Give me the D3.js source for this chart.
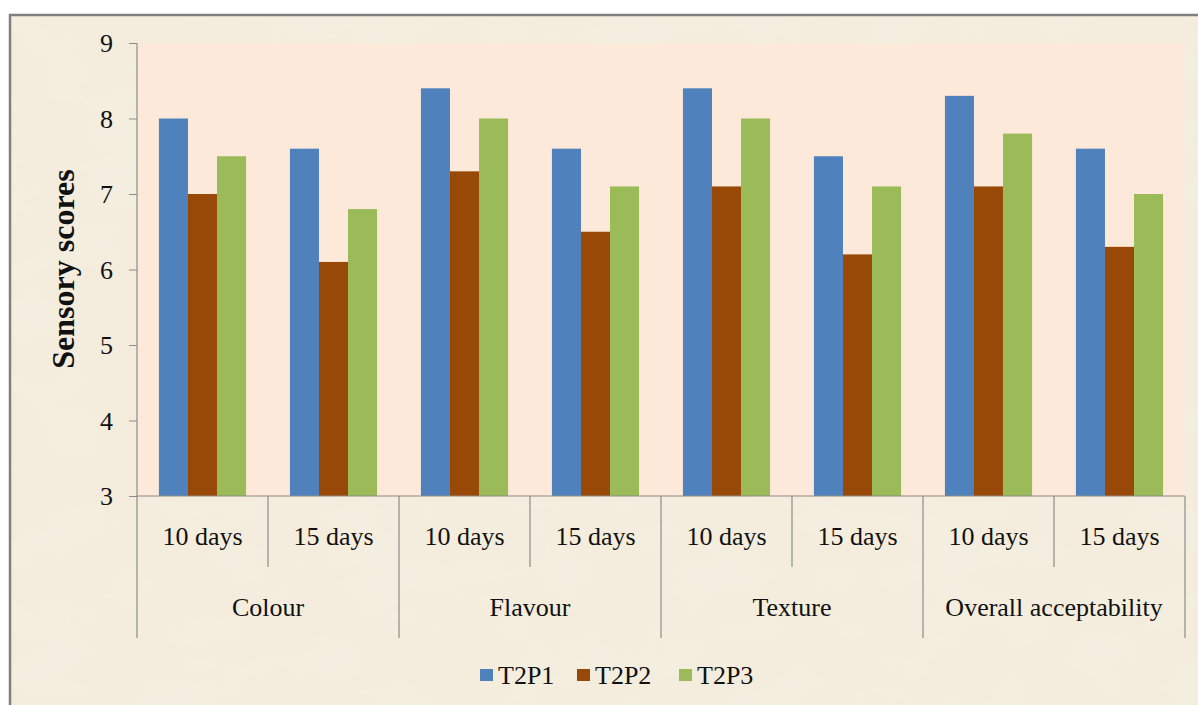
<!DOCTYPE html>
<html>
<head>
<meta charset="utf-8">
<script src="https://cdn.jsdelivr.net/npm/d3@7"></script>
<style>
  html, body { margin: 0; padding: 0; background: #ffffff; }
  svg { display: block; }
  text { font-family: "Liberation Serif", "Times New Roman", serif; fill: #111; }
</style>
</head>
<body>
<svg id="chart" width="1198" height="705"></svg>
<script>
// Sensory evaluation scores by attribute and storage period
const categories = ["Colour", "Flavour", "Texture", "Overall acceptability"];
const periods = ["10 days", "15 days"];
const seriesNames = ["T2P1", "T2P2", "T2P3"];
const seriesColors = ["#4f81bd", "#984807", "#9bbb59"];

// values per series, ordered category by category, 10 days then 15 days
const T2P1 = [8.0, 7.6, 8.4, 7.6, 8.4, 7.5, 8.3, 7.6];
const T2P2 = [7.0, 6.1, 7.3, 6.5, 7.1, 6.2, 7.1, 6.3];
const T2P3 = [7.5, 6.8, 8.0, 7.1, 8.0, 7.1, 7.8, 7.0];
const yTicks = [3, 4, 5, 6, 7, 8, 9];

const FONT = "'Liberation Serif', 'Times New Roman', serif";

const seriesValues = [T2P1, T2P2, T2P3];
const groups = [];
categories.forEach(c => periods.forEach(p => groups.push({ key: c + "|" + p, cat: c, period: p })));
groups.forEach((g, i) => { g.values = seriesValues.map((s, k) => ({ name: seriesNames[k], v: s[i], k })); });

const svg = d3.select("#chart");
const W = 1198, H = 705;

// parchment backdrop
const defs = svg.append("defs");
const f = defs.append("filter").attr("id", "paper").attr("x", 0).attr("y", 0).attr("width", "100%").attr("height", "100%");
f.append("feTurbulence").attr("type", "fractalNoise").attr("baseFrequency", "0.012 0.022").attr("numOctaves", 4).attr("seed", 7).attr("result", "noise");
f.append("feColorMatrix").attr("in", "noise").attr("type", "matrix")
  .attr("values", "0 0 0 0 0.90  0 0 0 0 0.86  0 0 0 0 0.78  0 0 0 -1.3 0.75").attr("result", "tint");
f.append("feComposite").attr("in", "tint").attr("in2", "SourceGraphic").attr("operator", "over");

svg.append("rect").attr("width", W).attr("height", H).attr("fill", "#ffffff");
svg.append("rect").attr("x", 9).attr("y", 14).attr("width", W - 9).attr("height", H - 14)
  .attr("fill", "#f4eddd").attr("filter", "url(#paper)");
// outer frame (top and left edges visible)
svg.append("path").attr("d", `M10,${H} V15 H${W}`).attr("fill", "none").attr("stroke", "#7f7f7f").attr("stroke-width", 2.5);

const x0 = 137, x1 = 1185, yTop = 43, yBot = 496;
const x = d3.scaleBand().domain(groups.map(g => g.key)).range([x0, x1]).paddingInner(0).paddingOuter(0);
const xs = d3.scaleBand().domain(seriesNames).range([0, x.bandwidth()]).paddingInner(0).paddingOuter(0.755);
const y = d3.scaleLinear().domain([3, 9]).range([yBot, yTop]);

// plot area
svg.append("rect").attr("x", x0 + 1).attr("y", yTop).attr("width", x1 - x0 - 3).attr("height", yBot - yTop)
  .attr("fill", "#fde9d9");

// bars
const g = svg.append("g");
g.selectAll("g.grp").data(groups).join("g").attr("class", "grp")
  .attr("transform", d => `translate(${x(d.key)},0)`)
  .selectAll("rect").data(d => d.values).join("rect")
  .attr("x", d => xs(d.name))
  .attr("width", xs.bandwidth())
  .attr("y", d => y(d.v))
  .attr("height", d => y(3) - y(d.v))
  .attr("fill", d => seriesColors[d.k]);

// y axis
const yAxis = d3.axisLeft(y).tickValues(yTicks).tickSize(8).tickPadding(16).tickFormat(d3.format("d"));
const ya = svg.append("g").attr("transform", `translate(${x0},0)`).call(yAxis);
ya.attr("font-family", FONT);
ya.select(".domain").remove();
ya.selectAll(".tick line").attr("stroke", "#8c8c8c");
ya.selectAll(".tick text").attr("font-size", 26).attr("font-family", FONT).attr("fill", "#111").attr("dy", "0.34em");
svg.append("line").attr("x1", x0).attr("x2", x0).attr("y1", yTop).attr("y2", 638).attr("stroke", "#8c8c8c").attr("stroke-width", 1.2);

// baseline
svg.append("line").attr("x1", x0).attr("x2", x1).attr("y1", yBot).attr("y2", yBot).attr("stroke", "#8c8c8c").attr("stroke-width", 1.2);

// multi-level category axis
const sepSub = groups.filter(gg => gg.period === periods[1]).map(gg => x(gg.key));
svg.selectAll("line.sub").data(sepSub).join("line").attr("class", "sub")
  .attr("x1", d => d).attr("x2", d => d).attr("y1", yBot).attr("y2", 567)
  .attr("stroke", "#8c8c8c").attr("stroke-width", 1.2);
const sepCat = categories.map((c, i) => x(groups[i * 2 + 1].key) + x.bandwidth());
svg.selectAll("line.cat").data(sepCat).join("line").attr("class", "cat")
  .attr("x1", d => d).attr("x2", d => d).attr("y1", yBot).attr("y2", 638)
  .attr("stroke", "#8c8c8c").attr("stroke-width", 1.2);

svg.selectAll("text.period").data(groups).join("text").attr("class", "period")
  .attr("x", d => x(d.key) + x.bandwidth() / 2).attr("y", 545)
  .attr("text-anchor", "middle").attr("font-family", FONT).attr("font-size", 26).text(d => d.period);

svg.selectAll("text.cat").data(categories).join("text").attr("class", "cat")
  .attr("x", (d, i) => x(groups[i * 2].key) + x.bandwidth())
  .attr("y", 616).attr("text-anchor", "middle").attr("font-family", FONT).attr("font-size", 26).text(d => d);

// y axis title
svg.append("text").attr("transform", `translate(74,269) rotate(-90)`)
  .attr("text-anchor", "middle").attr("font-family", FONT).attr("font-size", 32).attr("font-weight", "bold").text("Sensory scores");

// legend
const legendX = [480, 577, 679];
const lg = svg.selectAll("g.leg").data(seriesNames).join("g").attr("class", "leg")
  .attr("transform", (d, i) => `translate(${legendX[i]},0)`);
lg.append("rect").attr("x", 0).attr("y", 669).attr("width", 13).attr("height", 12).attr("fill", (d, i) => seriesColors[i]);
lg.append("text").attr("x", 18).attr("y", 684).attr("font-family", FONT).attr("font-size", 26).text(d => d);
</script>
</body>
</html>
